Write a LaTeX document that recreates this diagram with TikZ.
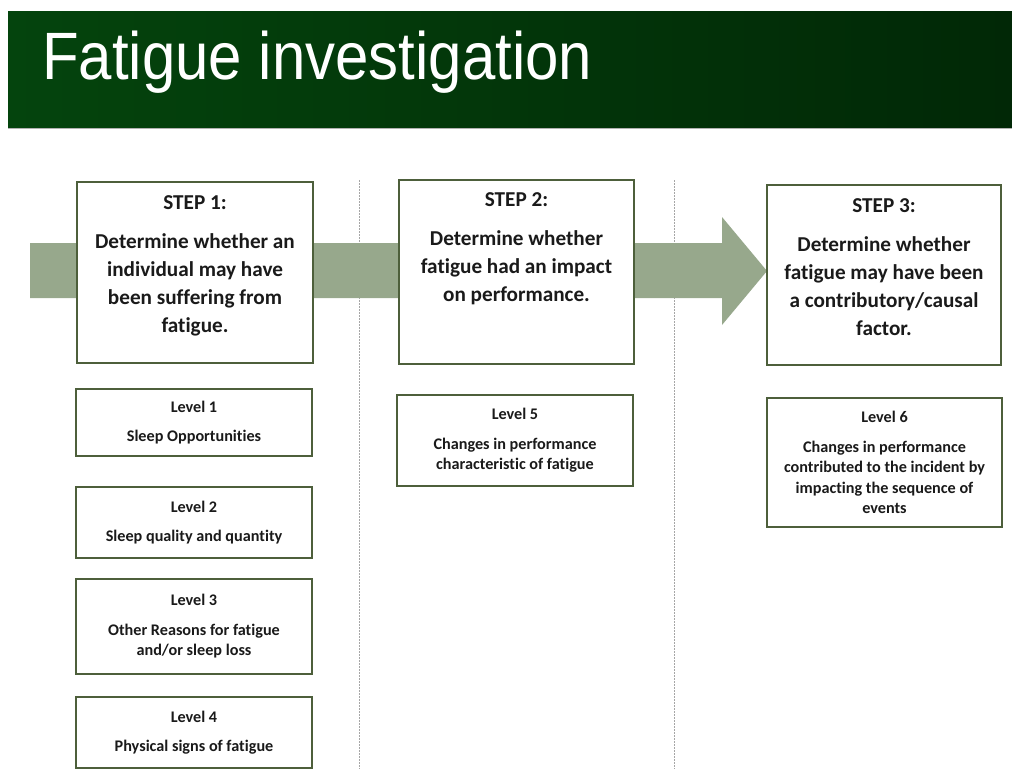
\documentclass[tikz,border=0pt]{standalone}
\usepackage{fontspec}
\setmainfont{Carlito}[Ligatures=CommonOff]
\newfontfamily\titlefont{Liberation Sans}
\usetikzlibrary{positioning}

\definecolor{barleft}{RGB}{4,68,13}
\definecolor{barright}{RGB}{1,40,6}
\definecolor{arrowgreen}{RGB}{151,168,140}
\definecolor{boxline}{RGB}{77,95,59}
\definecolor{inktext}{RGB}{26,26,26}

\begin{document}
\begin{tikzpicture}[x=1pt, y=-1pt,
    stepbox/.style={draw=boxline, line width=2.2pt, fill=white, inner sep=0pt},
    steptext/.style={align=center, inner sep=0pt, text=inktext,
        font=\bfseries\fontsize{21.2}{28}\selectfont},
    levelbox/.style={draw=boxline, line width=1.8pt, fill=white, minimum width=236pt,
        align=center, text=inktext, font=\bfseries\fontsize{16.2}{20.5}\selectfont},
    divider/.style={gray!70, line width=0.8pt, dash pattern=on 1.5pt off 1.5pt}]

            \useasboundingbox (0,0) rectangle (1012,769);

            % Title bar
            \shade[left color=barleft, right color=barright] (8,11) rectangle (1012,128);
            \draw[gray!60, line width=1pt] (8,128) -- (1012,128);
            \node[anchor=base west, inner sep=0pt, text=white] (title) at (42,79)
                {\titlefont\fontsize{67}{67}\selectfont\scalebox{0.895}[1]{Fatigue investigation}};

            % Column dividers
            \draw[divider] (359,180) -- (359,769);
            \draw[divider] (674,180) -- (674,769);

            % Big arrow behind the steps
            \fill[arrowgreen] (30,243) -- (722,243) -- (722,217) -- (767,271)
                -- (722,325) -- (722,298) -- (30,298) -- cycle;

            % Step boxes
            \node[stepbox, minimum width=236pt, minimum height=181pt] (step1) at (195,272.5) {};
            \node[stepbox, minimum width=235pt, minimum height=184pt] (step2) at (516.5,272) {};
            \node[stepbox, minimum width=234pt, minimum height=180pt] (step3) at (884,275) {};

            \node[steptext, below=14pt of step1.north] (step1txt)
                {STEP 1:\\[11pt]Determine whether an\\ individual may have\\ been suffering from\\ fatigue.};
            \node[steptext, below=13pt of step2.north] (step2txt)
                {STEP 2:\\[11pt]Determine whether\\ fatigue had an impact\\ on performance.};
            \node[steptext, below=14pt of step3.north] (step3txt)
                {STEP 3:\\[11pt]Determine whether\\ fatigue may have been\\ a contributory/causal\\ factor.};

            % Level boxes
            \node[levelbox, minimum height=67pt] (level1) at (194,422.5)
                {Level 1\\[9pt]Sleep Opportunities};
            \node[levelbox, minimum height=71pt] (level2) at (194,522.5)
                {Level 2\\[9pt]Sleep quality and quantity};
            \node[levelbox, minimum height=95pt] (level3) at (194,626.5)
                {Level 3\\[9pt]Other Reasons for fatigue\\ and/or sleep loss};
            \node[levelbox, minimum height=71pt] (level4) at (194,732.5)
                {Level 4\\[9pt]Physical signs of fatigue};
            \node[levelbox, minimum height=91pt] (level5) at (515,440.5)
                {Level 5\\[9pt]Changes in performance\\ characteristic of fatigue};
            \node[levelbox, minimum height=129pt, minimum width=235pt] (level6) at (884.5,462.5)
                {Level 6\\[9pt]Changes in performance\\ contributed to the incident by\\ impacting the sequence of\\ events};

        \end{tikzpicture}
\end{document}
